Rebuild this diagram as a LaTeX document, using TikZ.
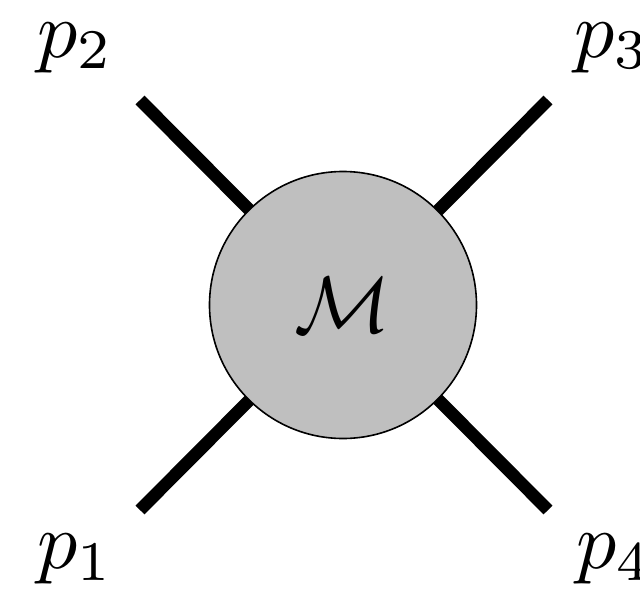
\documentclass[tikz,border=0pt]{standalone}
\begin{document}
\begin{tikzpicture}[x=1pt,y=-1pt,
  leg/.style={line width=12.5pt,line cap=butt},
  blob/.style={circle,draw=black,line width=1.6pt,fill=black!25,minimum size=267pt,inner sep=0pt},
  lbl/.style={inner sep=0pt,anchor=base west,scale=8}]
\useasboundingbox (0,0) rectangle (640,589);
\coordinate (c) at (343,305);
\coordinate (e2) at (140,100);
\coordinate (e3) at (548,100);
\coordinate (e1) at (140,510);
\coordinate (e4) at (548,510);
\draw[leg] (e2) -- (e4);
\draw[leg] (e1) -- (e3);
\node[blob] (m) at (c) {};
\node[scale=8,inner sep=0pt] (mt) at (c) {$\mathcal{M}$};
\node[lbl] (l2) at (36,57) {$p_2$};
\node[lbl] (l3) at (573,57) {$p_3$};
\node[lbl] (l1) at (36,568.5) {$p_1$};
\node[lbl] (l4) at (575,568.5) {$p_4$};
\end{tikzpicture}
\end{document}
